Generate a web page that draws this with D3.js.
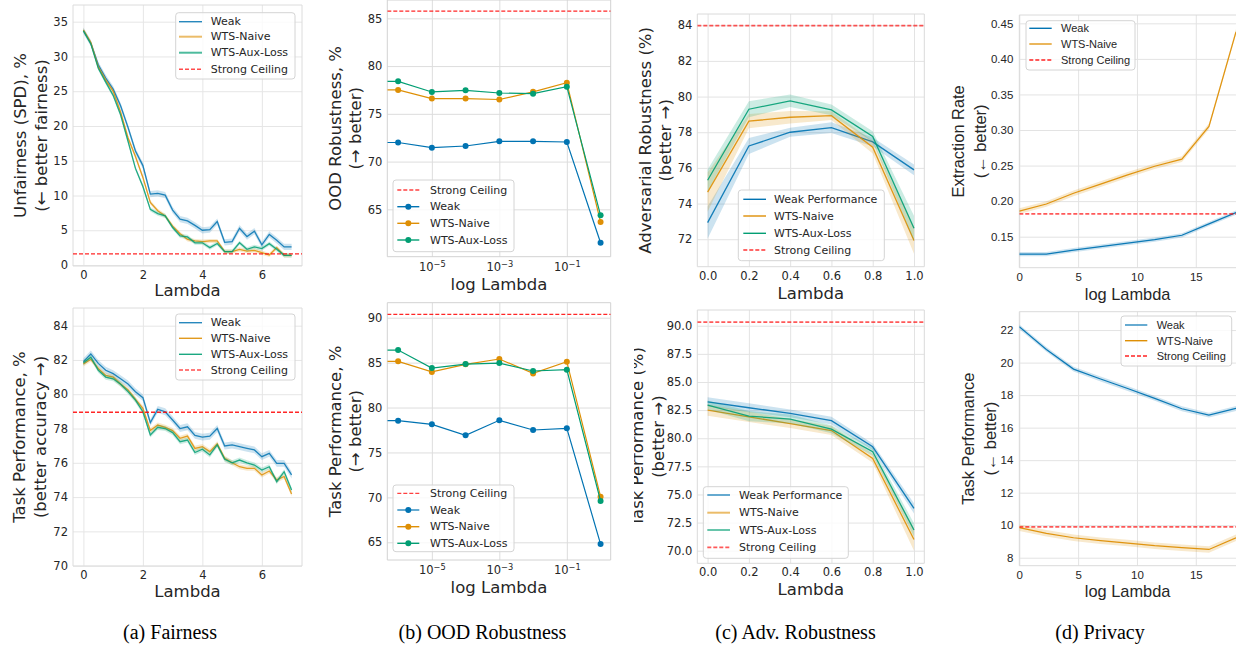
<!DOCTYPE html>
<html><head><meta charset="utf-8">
<script src="https://cdn.jsdelivr.net/npm/d3@7"></script>
<style>body{margin:0;background:#fff}svg{display:block}</style>
</head><body>
<svg id="c" width="1238" height="649"></svg>
<script>
// ---------- (a) Fairness ----------
const lambdaA = [0, 0.25, 0.5, 0.75, 1, 1.25, 1.5, 1.75, 2, 2.25, 2.5, 2.75, 3, 3.25, 3.5, 3.75, 4, 4.25, 4.5, 4.75, 5, 5.25, 5.5, 5.75, 6, 6.25, 6.5, 6.75, 7];
const fairWeak  = [33.7, 31.9, 28.8, 26.9, 25.3, 22.9, 19.8, 16.4, 14.3, 10.2, 10.3, 10.05, 7.9, 6.6, 6.35, 5.7, 5.0, 5.1, 6.25, 3.27, 3.37, 5.29, 4.1, 4.86, 2.9, 4.4, 3.56, 2.6, 2.6];
const fairNaive = [33.8, 32.0, 28.5, 26.6, 25.0, 22.0, 18.3, 15.6, 12.6, 9.0, 7.8, 7.07, 5.6, 4.5, 3.7, 3.46, 3.37, 3.46, 3.46, 1.92, 1.92, 2.26, 2.0, 2.1, 1.78, 1.44, 2.5, 1.39, 1.39];
const fairAux   = [33.7, 31.8, 28.3, 26.3, 24.4, 21.6, 17.8, 13.9, 11.3, 8.0, 7.4, 7.07, 5.4, 4.2, 4.04, 3.2, 3.2, 2.5, 3.1, 1.92, 1.92, 3.2, 2.26, 2.6, 2.36, 3.08, 2.26, 1.39, 1.39];
const fairCeil = 1.6;
const taskWeakA  = [81.9, 82.35, 81.8, 81.4, 81.2, 80.9, 80.6, 80.15, 79.8, 78.34, 79.12, 78.98, 78.5, 78.0, 78.1, 77.6, 77.5, 77.55, 78.0, 76.98, 77.04, 76.94, 76.84, 76.75, 76.36, 76.55, 75.97, 75.97, 75.29];
const taskNaiveA = [81.77, 82.04, 81.5, 81.1, 81.0, 80.6, 80.25, 79.7, 79.18, 77.88, 78.2, 78.07, 77.88, 77.43, 77.56, 76.84, 76.94, 76.65, 77.1, 76.26, 76.0, 75.77, 75.68, 75.68, 75.29, 75.52, 75.0, 75.2, 74.18];
const taskAuxA   = [81.84, 82.16, 81.4, 81.0, 80.9, 80.58, 80.15, 79.66, 78.98, 77.62, 78.07, 78.0, 77.76, 77.23, 77.33, 76.6, 76.79, 76.46, 77.04, 76.2, 76.0, 76.16, 76.0, 75.87, 75.58, 75.77, 74.9, 75.48, 74.41];
const taskCeilA = 78.95;

// ---------- (b) OOD Robustness ----------
const lambdaB = [1e-6, 1e-5, 1e-4, 1e-3, 1e-2, 1e-1, 1];
const oodWeak  = [72.0, 71.46, 71.63, 72.12, 72.12, 72.05, 61.5];
const oodNaive = [77.5, 76.6, 76.6, 76.5, 77.3, 78.26, 63.67];
const oodAux   = [78.4, 77.29, 77.46, 77.18, 77.11, 77.84, 64.37];
const oodCeil = 85.76;
const taskWeakB  = [78.54, 78.13, 76.91, 78.58, 77.5, 77.69, 64.8];
const taskNaiveB = [85.14, 83.97, 84.81, 85.4, 83.8, 85.1, 70.08];
const taskAuxB   = [86.4, 84.4, 84.84, 84.95, 84.07, 84.21, 69.6];
const taskCeilB = 90.37;

// ---------- (c) Adv. Robustness ----------
const lambdaC = [0, 0.2, 0.4, 0.6, 0.8, 1.0];
const advWeak  = [72.93, 77.23, 78.0, 78.26, 77.46, 75.89];
const advNaive = [74.64, 78.62, 78.84, 78.93, 77.16, 71.93];
const advAux   = [75.31, 79.29, 79.76, 79.25, 77.76, 72.62];
const advWeakErr  = [0.9, 0.45, 0.25, 0.3, 0.25, 0.3];
const advNaiveErr = [1.1, 0.4, 0.35, 0.25, 0.35, 0.75];
const advAuxErr   = [0.6, 0.45, 0.35, 0.3, 0.3, 0.7];
const advCeil = 83.98;
const taskWeakC  = [83.24, 82.71, 82.21, 81.56, 79.24, 73.76];
const taskNaiveC = [82.5, 81.9, 81.3, 80.68, 78.21, 71.0];
const taskAuxC   = [82.95, 81.97, 81.7, 80.8, 78.8, 71.84];
const taskWeakErrC  = [0.4, 0.4, 0.35, 0.35, 0.3, 0.45];
const taskNaiveErrC = [0.5, 0.45, 0.4, 0.4, 0.4, 1.0];
const taskAuxErrC   = [0.4, 0.45, 0.4, 0.35, 0.35, 0.6];
const taskCeilC = 90.33;

// ---------- (d) Privacy ----------
const lambdaD = [0, 2.30, 4.61, 6.91, 9.21, 11.51, 13.82, 16.12, 18.42];
const extWeak  = [0.1256, 0.1256, 0.131, 0.136, 0.141, 0.146, 0.152, 0.168, 0.184];
const extNaive = [0.186, 0.196, 0.211, 0.224, 0.237, 0.249, 0.259, 0.305, 0.438];
const extCeil = 0.182;
const privWeak  = [22.2, 20.81, 19.6, 18.99, 18.41, 17.8, 17.16, 16.77, 17.18];
const privNaive = [9.85, 9.5, 9.23, 9.05, 8.9, 8.74, 8.62, 8.51, 9.23];
const privCeil = 9.9;

// tick values
const ticksAx = [0, 2, 4, 6];
const ticksFairY = [0, 5, 10, 15, 20, 25, 30, 35];
const ticksTaskAY = [70, 72, 74, 76, 78, 80, 82, 84];
const ticksBx = [1e-5, 1e-3, 1e-1];
const ticksOodY = [65, 70, 75, 80, 85];
const ticksTaskBY = [65, 70, 75, 80, 85, 90];
const ticksCx = [0, 0.2, 0.4, 0.6, 0.8, 1.0];
const ticksAdvY = [72, 74, 76, 78, 80, 82, 84];
const ticksTaskCY = [70, 72.5, 75, 77.5, 80, 82.5, 85, 87.5, 90];
const ticksDx = [0, 5, 10, 15];
const ticksExtY = [0.15, 0.20, 0.25, 0.30, 0.35, 0.40, 0.45];
const ticksPrivY = [8, 10, 12, 14, 16, 18, 20, 22];

const captions = ['(a) Fairness', '(b) OOD Robustness', '(c) Adv. Robustness', '(d) Privacy'];

// ---------- drawing ----------
const COL = {weak: '#0173b2', naive: '#de8f05', aux: '#029e73', ceil: '#ff0000'};
const TXT = '#262626';
const DJ = 'DejaVu Sans', AR = 'Liberation Sans';
const svg = d3.select('#c');
const defs = svg.append('defs');

function drawPanel(p) {
  const g = svg.append('g').attr('font-family', p.font);
  const x = (p.xlog ? d3.scaleLog().clamp(true) : d3.scaleLinear()).domain(p.xd).range([p.L, p.R]);
  const y = d3.scaleLinear().domain(p.yd).range([p.B, p.T]);
  const W = p.R - p.L, H = p.B - p.T;

  const ax = g.append('g').attr('transform', `translate(0,${p.B})`)
    .call(d3.axisBottom(x).tickValues(p.xt).tickFormat(p.xf || (d => d)).tickSize(-H).tickPadding(p.xpad || 5));
  const ay = g.append('g').attr('transform', `translate(${p.L},0)`)
    .call(d3.axisLeft(y).tickValues(p.yt).tickFormat(p.yf || (d => d)).tickSize(-W).tickPadding(p.ypad || 5));
  [ax, ay].forEach(a => {
    a.attr('font-family', p.font).attr('font-size', p.tick);
    a.select('.domain').remove();
    a.selectAll('.tick line').attr('stroke', p.grid).attr('stroke-width', 1);
    a.selectAll('.tick text').attr('fill', TXT);
  });
  if (p.xsup) {
    ax.selectAll('.tick text').each(function (d) {
      const t = d3.select(this);
      t.text('');
      t.append('tspan').text('10');
      t.append('tspan').attr('dy', '-0.5em').attr('font-size', p.tick * 0.72)
        .text('\u2212' + Math.round(-Math.log10(d)));
    });
  }
  // frame
  const fp = d3.path();
  if (p.noRight) {
    fp.moveTo(p.R, p.T); fp.lineTo(p.L, p.T); fp.lineTo(p.L, p.B); fp.lineTo(p.R, p.B);
  } else { fp.rect(p.L, p.T, W, H); }
  g.append('path').attr('d', fp.toString()).attr('fill', 'none').attr('stroke', p.frame).attr('stroke-width', 1);

  const cid = 'clip' + p.id;
  defs.append('clipPath').attr('id', cid).append('rect').attr('x', p.L).attr('y', p.T).attr('width', W).attr('height', H);
  const dg = g.append('g').attr('clip-path', `url(#${cid})`);

  const drawCeil = () => dg.append('line').attr('x1', p.L).attr('x2', p.R)
    .attr('y1', y(p.ceil)).attr('y2', y(p.ceil))
    .attr('stroke', COL.ceil).attr('stroke-opacity', p.ceilOp).attr('stroke-width', p.ceilW)
    .attr('stroke-dasharray', '4,2');
  if (p.ceilFirst) drawCeil();

  p.series.forEach(s => {
    const pts = s.y.map((v, i) => ({x: s.x[i], v, e: Array.isArray(s.e) ? s.e[i] : (s.e || 0)}));
    if (s.e) {
      dg.append('path').datum(pts)
        .attr('d', d3.area().x(d => x(d.x)).y0(d => y(d.v - d.e)).y1(d => y(d.v + d.e)))
        .attr('fill', s.c).attr('fill-opacity', 0.2);
    }
    const lp = p.xlog ? [{x: p.xd[0], v: pts[0].v}].concat(pts) : pts;
    dg.append('path').datum(lp)
      .attr('d', d3.line().x(d => x(d.x)).y(d => y(d.v)))
      .attr('fill', 'none').attr('stroke', s.c).attr('stroke-width', p.lw).attr('stroke-opacity', p.lop);
    if (p.markers) {
      dg.selectAll(null).data(pts).join('circle')
        .attr('cx', d => x(d.x)).attr('cy', d => y(d.v)).attr('r', 3).attr('fill', s.c);
    }
  });
  if (!p.ceilFirst) drawCeil();

  // axis labels
  g.append('text').attr('x', (p.L + p.R) / 2).attr('y', p.B + p.xlabOff)
    .attr('text-anchor', 'middle').attr('font-size', p.lab).attr('fill', TXT).text(p.xlab);
  const cy = (p.T + p.B) / 2;
  const yl = g.append('g');
  if (p.ylClip) {
    defs.append('clipPath').attr('id', cid + 'yl').append('rect')
      .attr('x', p.ylClip).attr('y', 0).attr('width', 2000).attr('height', 2000);
    yl.attr('clip-path', `url(#${cid}yl)`);
  }
  p.ylab.forEach((t, i) => {
    yl.append('text').attr('transform', `translate(${p.ylx[i]},${cy}) rotate(-90)`)
      .attr('text-anchor', 'middle').attr('dominant-baseline', 'central')
      .attr('font-size', p.lab).attr('fill', TXT).text(t);
  });

  // legend
  const L = p.leg;
  const lg = g.append('g');
  lg.append('rect').attr('x', L.x).attr('y', L.y).attr('width', L.w).attr('height', L.h).attr('rx', 3)
    .attr('fill', '#fff').attr('fill-opacity', 0.8).attr('stroke', '#d4d4d4').attr('stroke-width', 1);
  L.rows.forEach((r, i) => {
    const yy = L.ry[i];
    lg.append('line').attr('x1', L.sx).attr('x2', L.sx + L.sw).attr('y1', yy).attr('y2', yy)
      .attr('stroke', r.c).attr('stroke-width', r.w || 1.4).attr('stroke-opacity', r.op || 1)
      .attr('stroke-dasharray', r.dash ? '4,2' : null);
    if (r.mark) lg.append('circle').attr('cx', L.sx + L.sw / 2).attr('cy', yy).attr('r', 3).attr('fill', r.c);
    lg.append('text').attr('x', L.tx).attr('y', yy).attr('dominant-baseline', 'central')
      .attr('font-size', p.legf).attr('fill', TXT).text(r.t);
  });
}

const ceilRow = (op, w) => ({t: 'Strong Ceiling', c: COL.ceil, dash: true, op, w});

// (a) top
drawPanel({id: 'a1', font: DJ, L: 73, R: 302, T: 5, B: 266, xd: [-0.35, 7.35], yd: [-0.14, 37.4],
  xt: ticksAx, yt: ticksFairY, tick: 11.5, lab: 16.5, legf: 11, grid: '#e6e6e6', frame: '#dcdcdc',
  xlab: 'Lambda', xlabOff: 30, ylab: ['Unfairness (SPD), %', '(\u2190 better fairness)'], ylx: [20, 41],
  lw: 1.3, lop: 0.85, ceil: fairCeil, ceilOp: 0.85, ceilW: 1.3,
  series: [{x: lambdaA, y: fairWeak, c: COL.weak, e: 0.45}, {x: lambdaA, y: fairNaive, c: COL.naive, e: 0.3}, {x: lambdaA, y: fairAux, c: COL.aux, e: 0.3}],
  leg: {x: 175.7, y: 12.7, w: 119.3, h: 66.3, ry: [21.7, 36.7, 52.7, 69.3], sx: 179, sw: 23, tx: 210.7,
    rows: [{t: 'Weak', c: COL.weak, op: 0.85}, {t: 'WTS-Naive', c: COL.naive, w: 2, op: 0.6}, {t: 'WTS-Aux-Loss', c: COL.aux, w: 2, op: 0.7}, ceilRow(0.7, 1.4)]}
});
// (a) bottom
drawPanel({id: 'a2', font: DJ, L: 73, R: 302, T: 308, B: 566, xd: [-0.35, 7.35], yd: [69.98, 85.03],
  xt: ticksAx, yt: ticksTaskAY, tick: 11.5, lab: 16.5, legf: 11, grid: '#e6e6e6', frame: '#dcdcdc',
  xlab: 'Lambda', xlabOff: 31, ylab: ['Task Performance, %', '(better accuracy \u2192)'], ylx: [19.5, 40.5],
  lw: 1.3, lop: 0.85, ceil: taskCeilA, ceilOp: 0.85, ceilW: 1.3,
  series: [{x: lambdaA, y: taskWeakA, c: COL.weak, e: 0.2}, {x: lambdaA, y: taskNaiveA, c: COL.naive, e: 0.15}, {x: lambdaA, y: taskAuxA, c: COL.aux, e: 0.15}],
  leg: {x: 175.7, y: 314, w: 119.3, h: 66, ry: [322.7, 338.3, 354.3, 370], sx: 179, sw: 23, tx: 210.7,
    rows: [{t: 'Weak', c: COL.weak, op: 0.85}, {t: 'WTS-Naive', c: COL.naive, op: 0.9}, {t: 'WTS-Aux-Loss', c: COL.aux, op: 0.9}, ceilRow(0.7, 1.4)]}
});
// (b) top
drawPanel({id: 'b1', font: DJ, L: 387.3, R: 610.7, T: 0, B: 256.7, xlog: true, xd: [Math.pow(10, -6.32), Math.pow(10, 0.30)], yd: [60.04, 86.92],
  xt: ticksBx, xsup: true, xpad: 6, yt: ticksOodY, tick: 11.5, lab: 16.5, legf: 11, grid: '#dddddd', frame: '#d2d2d2',
  xlab: 'log Lambda', xlabOff: 33, ylab: ['OOD Robustness, %', '(\u2192 better)'], ylx: [335.5, 355.5],
  lw: 1.2, lop: 1, markers: true, ceil: oodCeil, ceilOp: 0.85, ceilW: 1.2, ceilFirst: true,
  series: [{x: lambdaB, y: oodWeak, c: COL.weak}, {x: lambdaB, y: oodNaive, c: COL.naive}, {x: lambdaB, y: oodAux, c: COL.aux}],
  leg: {x: 393, y: 180, w: 121, h: 71.7, ry: [190, 206.7, 223.3, 240], sx: 397.3, sw: 22, tx: 430,
    rows: [ceilRow(0.75, 1.3), {t: 'Weak', c: COL.weak, mark: true}, {t: 'WTS-Naive', c: COL.naive, mark: true}, {t: 'WTS-Aux-Loss', c: COL.aux, mark: true}]}
});
// (b) bottom
drawPanel({id: 'b2', font: DJ, L: 387.3, R: 610.7, T: 302.7, B: 560, xlog: true, xd: [Math.pow(10, -6.32), Math.pow(10, 0.30)], yd: [63.03, 91.67],
  xt: ticksBx, xsup: true, xpad: 6, yt: ticksTaskBY, tick: 11.5, lab: 16.5, legf: 11, grid: '#dddddd', frame: '#d2d2d2',
  xlab: 'log Lambda', xlabOff: 33, ylab: ['Task Performance, %', '(\u2192 better)'], ylx: [335.5, 355],
  lw: 1.2, lop: 1, markers: true, ceil: taskCeilB, ceilOp: 0.85, ceilW: 1.2, ceilFirst: true,
  series: [{x: lambdaB, y: taskWeakB, c: COL.weak}, {x: lambdaB, y: taskNaiveB, c: COL.naive}, {x: lambdaB, y: taskAuxB, c: COL.aux}],
  leg: {x: 393, y: 485, w: 121, h: 66.7, ry: [493.3, 510, 526.7, 543.3], sx: 397.3, sw: 22, tx: 430,
    rows: [ceilRow(0.75, 1.3), {t: 'Weak', c: COL.weak, mark: true, op: 0.6, w: 2}, {t: 'WTS-Naive', c: COL.naive, mark: true}, {t: 'WTS-Aux-Loss', c: COL.aux, mark: true}]}
});
// (c) top
drawPanel({id: 'c1', font: DJ, L: 697.3, R: 924.3, T: 14, B: 266.7, xd: [-0.05, 1.05], yd: [70.46, 84.63],
  xt: ticksCx, xf: d3.format('.1f'), yt: ticksAdvY, tick: 11.5, lab: 16.5, legf: 11, grid: '#e3e3e3', frame: '#dadada',
  xlab: 'Lambda', xlabOff: 32.5, ylab: ['Adversarial Robustness (%)', '(better \u2192)'], ylx: [645, 665],
  lw: 1.3, lop: 0.9, ceil: advCeil, ceilOp: 0.65, ceilW: 1.8,
  series: [{x: lambdaC, y: advWeak, c: COL.weak, e: advWeakErr}, {x: lambdaC, y: advNaive, c: COL.naive, e: advNaiveErr}, {x: lambdaC, y: advAux, c: COL.aux, e: advAuxErr}],
  leg: {x: 738.3, y: 190, w: 146, h: 70.7, ry: [199.3, 216, 233.3, 250], sx: 743.3, sw: 22.7, tx: 774,
    rows: [{t: 'Weak Performance', c: COL.weak}, {t: 'WTS-Naive', c: COL.naive}, {t: 'WTS-Aux-Loss', c: COL.aux}, ceilRow(0.8, 1.4)]}
});
// (c) bottom
drawPanel({id: 'c2', font: DJ, L: 697.3, R: 924.3, T: 310, B: 563.3, xd: [-0.05, 1.05], yd: [68.88, 91.40],
  xt: ticksCx, xf: d3.format('.1f'), yt: ticksTaskCY, yf: d3.format('.1f'), tick: 11.5, lab: 16.5, legf: 11, grid: '#e3e3e3', frame: '#dadada',
  xlab: 'Lambda', xlabOff: 32, ylab: ['Task Performance (%)', '(better \u2192)'], ylx: [637.5, 658], ylClip: 634,
  lw: 1.3, lop: 0.9, ceil: taskCeilC, ceilOp: 0.65, ceilW: 1.8,
  series: [{x: lambdaC, y: taskWeakC, c: COL.weak, e: taskWeakErrC}, {x: lambdaC, y: taskNaiveC, c: COL.naive, e: taskNaiveErrC}, {x: lambdaC, y: taskAuxC, c: COL.aux, e: taskAuxErrC}],
  leg: {x: 703.3, y: 486.7, w: 145, h: 71.6, ry: [495, 512.7, 530, 547.3], sx: 707.3, sw: 22.7, tx: 739,
    rows: [{t: 'Weak Performance', c: COL.weak, w: 2, op: 0.6}, {t: 'WTS-Naive', c: COL.naive, w: 2, op: 0.6}, {t: 'WTS-Aux-Loss', c: COL.aux, w: 2, op: 0.6}, ceilRow(0.65, 1.8)]}
});
// (d) top
drawPanel({id: 'd1', font: AR, L: 1019.3, R: 1236, T: 15, B: 267.7, xd: [0, 18.42], yd: [0.1064, 0.4617], noRight: true,
  xt: ticksDx, yt: ticksExtY, yf: d3.format('.2f'), ypad: 6, tick: 11.5, lab: 16.4, legf: 11, grid: '#e3e3e3', frame: '#dadada',
  xlab: 'log Lambda', xlabOff: 32.5, ylab: ['Extraction Rate', '(\u2190 better)'], ylx: [958, 980],
  lw: 1.2, lop: 0.95, ceil: extCeil, ceilOp: 0.65, ceilW: 1.8,
  series: [{x: lambdaD, y: extWeak, c: COL.weak, e: 0.003}, {x: lambdaD, y: extNaive, c: COL.naive, e: 0.004}],
  leg: {x: 1026, y: 20.7, w: 109, h: 49.3, ry: [28.3, 44, 60], sx: 1029.3, sw: 22.4, tx: 1061,
    rows: [{t: 'Weak', c: COL.weak}, {t: 'WTS-Naive', c: COL.naive, w: 2, op: 0.65}, ceilRow(0.65, 1.8)]}
});
// (d) bottom
drawPanel({id: 'd2', font: AR, L: 1019.3, R: 1236, T: 311.7, B: 565.7, xd: [0, 18.42], yd: [7.51, 23.13], noRight: true,
  xt: ticksDx, yt: ticksPrivY, ypad: 6, tick: 11.5, lab: 16.4, legf: 11, grid: '#e3e3e3', frame: '#dadada',
  xlab: 'log Lambda', xlabOff: 31, ylab: ['Task Performance', '(\u2190 better)'], ylx: [968, 990],
  lw: 1.2, lop: 0.95, ceil: privCeil, ceilOp: 0.65, ceilW: 1.8,
  series: [{x: lambdaD, y: privWeak, c: COL.weak, e: 0.15}, {x: lambdaD, y: privNaive, c: COL.naive, e: 0.2}],
  leg: {x: 1121, y: 316, w: 110.7, h: 50, ry: [325, 340.7, 356], sx: 1125, sw: 22.3, tx: 1156.7,
    rows: [{t: 'Weak', c: COL.weak, w: 2, op: 0.6}, {t: 'WTS-Naive', c: COL.naive}, ceilRow(0.65, 1.8)]}
});

// captions
const capX = [170, 482.5, 795.5, 1100];
svg.append('g').selectAll('text').data(captions).join('text')
  .attr('x', (d, i) => capX[i]).attr('y', 639).attr('text-anchor', 'middle')
  .attr('font-family', 'Liberation Serif').attr('font-size', 20).attr('fill', '#000').text(d => d);
</script>
</body></html>
